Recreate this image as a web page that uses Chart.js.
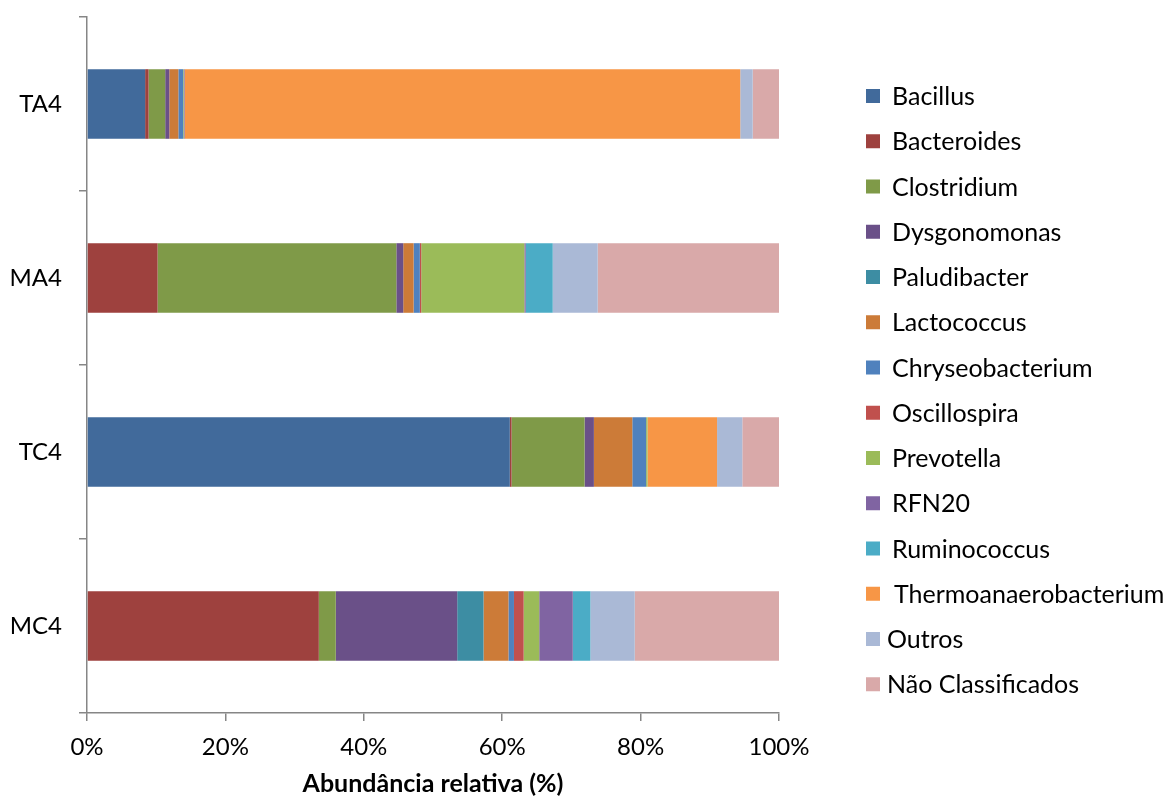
<!DOCTYPE html>
<html>
<head>
<meta charset="utf-8">
<title>Abundância relativa</title>
<script src="https://cdn.jsdelivr.net/npm/chart.js@4/dist/chart.umd.min.js"></script>
<style>
  html, body { margin: 0; padding: 0; background: #ffffff; }
  #wrap { width: 1165px; height: 799px; position: relative; }
</style>
</head>
<body>
<div id="wrap"><canvas id="chart" width="1165" height="799"></canvas></div>
<script>
// Amostras (de cima para baixo)
const categories = ['TA4', 'MA4', 'TC4', 'MC4'];

// Abundância relativa (%) de cada gênero por amostra
const bacillus         = [8.4, 0, 61.1, 0];
const bacteroides      = [0.5, 10.2, 0.25, 33.5];
const clostridium      = [2.4, 34.5, 10.55, 2.45];
const dysgonomonas     = [0.6, 1.0, 1.35, 17.55];
const paludibacter     = [0, 0, 0, 3.8];
const lactococcus      = [1.3, 1.5, 5.55, 3.6];
const chryseobacterium = [0.7, 0.9, 2.0, 0.8];
const oscillospira     = [0, 0.2, 0, 1.4];
const prevotella       = [0.1, 14.9, 0.2, 2.25];
const rfn20            = [0.1, 0.2, 0, 4.85];
const ruminococcus     = [0, 3.9, 0, 2.55];
const thermoanaero     = [80.3, 0, 10.05, 0];
const outros           = [1.8, 6.5, 3.65, 6.4];
const naoClassificados = [3.8, 26.2, 5.3, 20.85];

// Rótulos do eixo x
const xTickValues = [0, 20, 40, 60, 80, 100];
const xTickLabels = ['0%', '20%', '40%', '60%', '80%', '100%'];

const seriesNames = ['Bacillus', 'Bacteroides', 'Clostridium', 'Dysgonomonas', 'Paludibacter',
  'Lactococcus', 'Chryseobacterium', 'Oscillospira', 'Prevotella', 'RFN20', 'Ruminococcus',
  'Thermoanaerobacterium', 'Outros', 'Não Classificados'];
const seriesValues = [bacillus, bacteroides, clostridium, dysgonomonas, paludibacter,
  lactococcus, chryseobacterium, oscillospira, prevotella, rfn20, ruminococcus,
  thermoanaero, outros, naoClassificados];
const seriesColors = ['#416A9B', '#9E413E', '#7F9A48', '#6A5088', '#3D8DA3',
  '#CC7B38', '#4F81BD', '#C0504D', '#9BBB59', '#8064A2', '#4BACC6',
  '#F79646', '#AAB9D6', '#D9A9A9'];

const FONT = 'Lato, "Open Sans", sans-serif';
const AXIS_GRAY = '#868686';

// Legenda desenhada à direita do gráfico, uma entrada por série
const sideLegend = {
  id: 'sideLegend',
  afterDraw(chart) {
    const ctx = chart.ctx;
    const x0 = 866, y0 = 96, step = 45.25, box = 14;
    ctx.save();
    ctx.font = '25px ' + FONT;
    ctx.textBaseline = 'middle';
    ctx.textAlign = 'left';
    chart.data.datasets.forEach((ds, i) => {
      const y = y0 + i * step;
      ctx.fillStyle = ds.backgroundColor;
      ctx.fillRect(x0, y - box / 2, box, box);
      ctx.fillStyle = '#000000';
      const tx = i >= 12 ? 887 : (i === 11 ? 894 : 892);
      ctx.fillText(ds.label, tx, y + 1);
    });
    ctx.restore();
  }
};

new Chart(document.getElementById('chart'), {
  type: 'bar',
  data: {
    labels: categories,
    datasets: seriesNames.map((name, i) => ({
      label: name,
      data: seriesValues[i],
      backgroundColor: seriesColors[i],
      borderWidth: 0,
      barPercentage: 0.4,
      categoryPercentage: 1.0
    }))
  },
  options: {
    indexAxis: 'y',
    responsive: false,
    animation: false,
    layout: { padding: { top: 17, right: 386, bottom: 0, left: 0 } },
    plugins: {
      legend: { display: false },
      tooltip: { enabled: false }
    },
    scales: {
      x: {
        stacked: true,
        min: 0,
        max: 100,
        afterBuildTicks(scale) {
          scale.ticks = xTickValues.map(v => ({ value: v }));
        },
        afterFit(scale) { scale.height = 86; },
        ticks: {
          callback: (v, i) => xTickLabels[i],
          font: { family: FONT, size: 24 },
          color: '#000000',
          padding: 12,
          maxRotation: 0
        },
        grid: {
          display: true,
          drawOnChartArea: false,
          drawTicks: true,
          tickLength: 8,
          color: AXIS_GRAY,
          lineWidth: 1.5
        },
        border: { display: true, color: AXIS_GRAY, width: 1.5 },
        title: {
          display: true,
          text: 'Abundância relativa (%)',
          font: { family: FONT, size: 25, weight: 'bold' },
          color: '#000000',
          padding: { top: 0, bottom: 0 }
        }
      },
      y: {
        stacked: true,
        afterFit(scale) {
          scale.width = 87;
          scale.paddingTop = 0;
          scale.paddingBottom = 0;
        },
        ticks: {
          font: { family: FONT, size: 24 },
          color: '#000000',
          padding: 17
        },
        grid: {
          display: true,
          offset: true,
          drawOnChartArea: false,
          drawTicks: true,
          tickLength: 8,
          color: AXIS_GRAY,
          lineWidth: 1.5
        },
        border: { display: true, color: AXIS_GRAY, width: 1.5 }
      }
    }
  },
  plugins: [sideLegend]
});
</script>
</body>
</html>
